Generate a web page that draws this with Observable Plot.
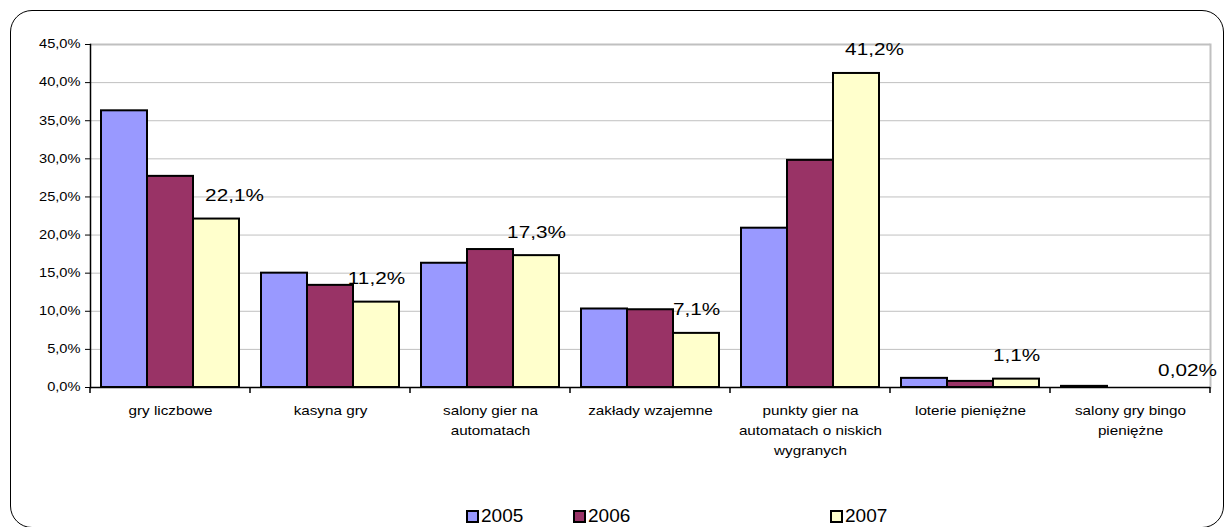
<!DOCTYPE html>
<html><head><meta charset="utf-8">
<script src="https://cdn.jsdelivr.net/npm/d3@7"></script>
<script src="https://cdn.jsdelivr.net/npm/@observablehq/plot@0.6"></script>
<style>
body{margin:0;background:#fff;font-family:"Liberation Sans",Arial,sans-serif;}
#wrap{position:relative;width:1226px;height:527px;overflow:hidden;background:#fff;}
#border{position:absolute;left:10px;top:10px;width:1214px;height:518px;border:1.5px solid #000;border-radius:22px;box-sizing:border-box;}
#chart{position:absolute;left:0;top:0;}
#legend{position:absolute;top:506px;left:0;width:1226px;height:20px;font-size:19px;color:#000;}
.item{position:absolute;top:0;display:flex;align-items:center;line-height:20px;}
.sw{width:9px;height:9px;border:2px solid #000;margin-right:2px;}
</style></head>
<body>
<div id="wrap">
  <div id="border"></div>
  <div id="chart"></div>
  <div id="legend"></div>
</div>
<script>
const categories = ["gry liczbowe","kasyna gry","salony gier na automatach","zakłady wzajemne","punkty gier na automatach o niskich wygranych","loterie pieniężne","salony gry bingo pieniężne"];
const categoryLabels = ["gry liczbowe","kasyna gry","salony gier na\nautomatach","zakłady wzajemne","punkty gier na\nautomatach o niskich\nwygranych","loterie pieniężne","salony gry bingo\npieniężne"];
const years = ["2005","2006","2007"];
const values2005 = [36.3, 15.0, 16.3, 10.3, 20.9, 1.2, 0.15];
const values2006 = [27.7, 13.4, 18.1, 10.2, 29.8, 0.8, 0.0];
const values2007 = [22.1, 11.2, 17.3, 7.1, 41.2, 1.1, 0.02];
const labels2007 = ["22,1%","11,2%","17,3%","7,1%","41,2%","1,1%","0,02%"];
const yTicks = [0, 5, 10, 15, 20, 25, 30, 35, 40, 45];
const colors = ["#9999FF", "#993366", "#FFFFCC"];
const shiftedLabels = ["gry liczbowe", "punkty gier na automatach o niskich wygranych"];
const edgeLabels = ["salony gry bingo pieniężne"];

const series = [values2005, values2006, values2007];
const data = [];
categories.forEach((c, i) => years.forEach((y, j) => data.push({category: c, year: y, value: series[j][i]})));
const barData = data.filter(d => d.value >= 0.05);
const labelData = categories.map((c, i) => ({category: c, year: "2007", value: values2007[i], label: labels2007[i]}));
const isShifted = d => shiftedLabels.includes(d.category);
const isEdge = d => edgeLabels.includes(d.category);

const plot = Plot.plot({
  width: 1226,
  height: 470,
  marginLeft: 90,
  marginRight: 16,
  marginTop: 44,
  marginBottom: 83,
  style: {fontFamily: "'Liberation Sans', Arial, sans-serif", fontSize: "12px", background: "transparent", color: "#000"},
  fx: {domain: categories, padding: 0, label: null, axis: null},
  x: {domain: years, paddingInner: 0, paddingOuter: 0.239, axis: null},
  y: {domain: [0, 45], axis: null},
  color: {domain: years, range: colors},
  marks: [
    Plot.ruleY(yTicks.slice(1, -1), {stroke: "#c0c0c0", strokeWidth: 1}),
    Plot.ruleY([45], {stroke: "#c0c0c0", strokeWidth: 2}),
    Plot.frame({facetAnchor: "right", anchor: "right", stroke: "#c0c0c0", strokeWidth: 2}),
    Plot.barY(barData, {fx: "category", x: "year", y: "value", fill: "year", stroke: "#000", strokeWidth: 2}),
    Plot.text(labelData.filter(d => !isShifted(d) && !isEdge(d)), {fx: "category", x: "year", y: "value", text: "label", lineAnchor: "bottom", dy: -18, fontSize: 17}),
    Plot.text(labelData.filter(isShifted), {fx: "category", x: "year", y: "value", text: "label", lineAnchor: "bottom", dy: -18, dx: 18, fontSize: 17}),
    Plot.text(labelData.filter(isEdge), {fx: "category", x: "year", y: "value", text: "label", lineAnchor: "bottom", dy: -11, dx: 11, fontSize: 17}),
    Plot.ruleY([0], {stroke: "#000", strokeWidth: 1.5}),
    Plot.frame({facetAnchor: "left", anchor: "left", stroke: "#000", strokeWidth: 1.5}),
    Plot.axisY(yTicks, {tickSize: 5, tickPadding: 5, tickFormat: d => d.toFixed(1).replace(".", ",") + "%", fontSize: 12, label: null}),
    Plot.axisFx({anchor: "bottom", tickSize: 0, tickPadding: 13, lineHeight: 1.6, fontSize: 12.5, label: null, tickFormat: d => categoryLabels[categories.indexOf(d)]})
  ]
});
document.getElementById("chart").appendChild(plot);

// the reference's lettering is horizontally stretched: widen each text about its anchor
d3.select(plot).selectAll("text").each(function() {
  const t = this.getAttribute("transform") || "";
  const x = +this.getAttribute("x") || 0;
  this.setAttribute("transform", `${t} translate(${x},0) scale(1.22,1) translate(${-x},0)`);
});

// category boundary ticks on the bottom axis, from the fx scale
const fx = plot.scale("fx"), ys = plot.scale("y");
const bounds = categories.map(c => fx.apply(c));
bounds.push(fx.apply(categories[categories.length - 1]) + fx.bandwidth);
const y0 = ys.apply(0);
d3.select(plot).append("g").selectAll("line").data(bounds).join("line")
  .attr("x1", d => d).attr("x2", d => d).attr("y1", y0).attr("y2", y0 + 6)
  .attr("stroke", "#000").attr("stroke-width", 1.5);

// legend
const legendX = [466, 573, 830];
const leg = d3.select("#legend");
years.forEach((y, i) => {
  const it = leg.append("div").attr("class", "item").style("left", legendX[i] + "px");
  it.append("div").attr("class", "sw").style("background", colors[i]);
  it.append("span").text(y);
});
</script>
</body></html>
